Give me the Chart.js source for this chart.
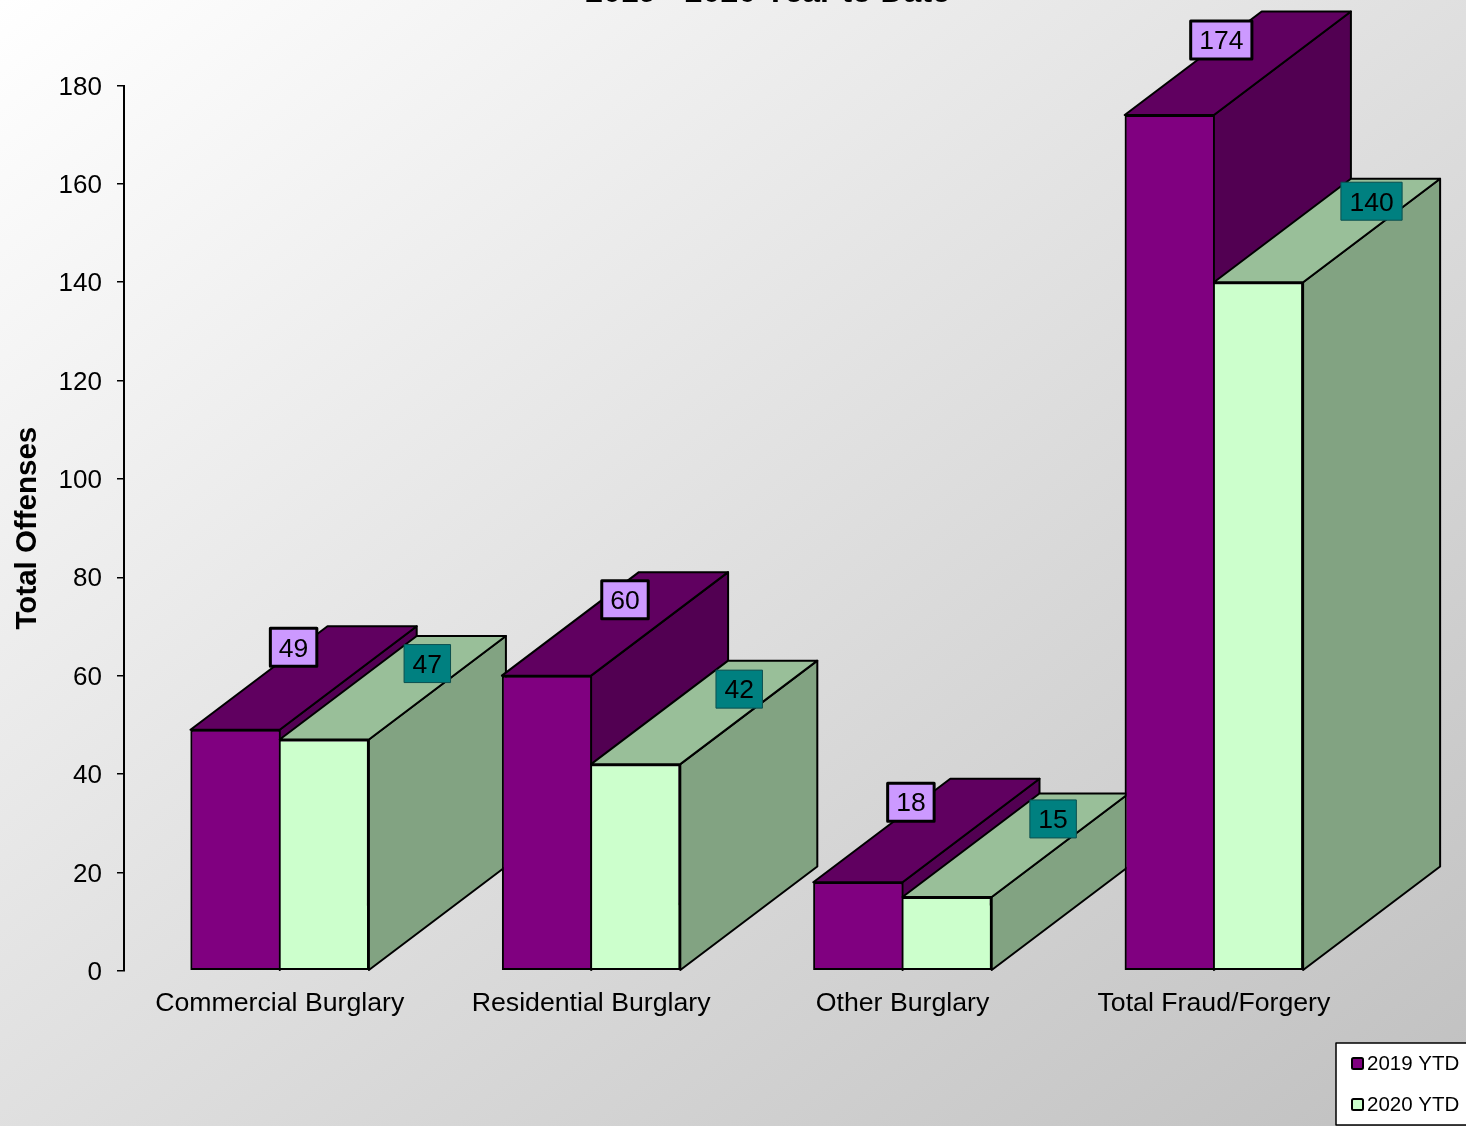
<!DOCTYPE html>
<html lang="en">
<head>
    <meta charset="UTF-8">
    <title>2019 - 2020 Year to Date</title>
    <script src="https://cdn.jsdelivr.net/npm/chart.js"></script>
    <style>
        body {
            margin: 0;
            background: #fff;
        }
        canvas {
            display: block;
            background: linear-gradient(to bottom right, #ffffff 0%, #c0c0c0 100%);
        }
    </style>
</head>
<body>
    <canvas id="chart" width="1466" height="1126"></canvas>
    <script>
        // Values
        const categories = ['Commercial Burglary', 'Residential Burglary', 'Other Burglary', 'Total Fraud/Forgery'];
        const ytd2019 = [49, 60, 18, 174];
        const ytd2020 = [47, 42, 15, 140];
        const yTicks = [0, 20, 40, 60, 80, 100, 120, 140, 160, 180];
        const chartTitle = '2019 - 2020 Year to Date';
        const yTitle = 'Total Offenses';

        const FONT = '"Liberation Sans", Arial, sans-serif';

        // The 3D look: how far the box goes back, and face colours per series
        const depthX = 137;
        const depthY = -103.5;
        const faces = [
            { top: '#600060', side: '#520052', label: '#CC99FF', labelBorder: '#000', labelLine: 3 },
            { top: '#99BF99', side: '#82A382', label: '#008080', labelBorder: '#0b4f4f', labelLine: 1 }
        ];
        // Label boxes were placed by hand in the original: shift from bar top centre
        const labelShift = [
            [[58.5, -82.5], [78.5, -76], [53, -80], [52, -75]],
            [[103, -76], [103.5, -75], [106, -78], [113, -81]]
        ];

        function poly(ctx, pts, fill) {
            ctx.beginPath();
            pts.forEach((p, i) => i ? ctx.lineTo(p[0], p[1]) : ctx.moveTo(p[0], p[1]));
            ctx.closePath();
            ctx.fillStyle = fill;
            ctx.fill();
            ctx.strokeStyle = '#000';
            ctx.lineWidth = 2;
            ctx.lineJoin = 'round';
            ctx.stroke();
        }

        const boxes3d = {
            id: 'boxes3d',
            // painter's order: category by category, so later boxes hide earlier ones
            afterDatasetsDraw(chart) {
                const ctx = chart.ctx;
                categories.forEach((c, i) => {
                    chart.data.datasets.forEach((ds, d) => {
                        const bar = chart.getDatasetMeta(d).data[i];
                        const half = bar.width / 2;
                        const l = bar.x - half, r = bar.x + half, t = bar.y, b = bar.base;
                        poly(ctx, [[r, b], [r + depthX, b + depthY], [r + depthX, t + depthY], [r, t]], faces[d].side);
                        poly(ctx, [[l, t], [l + depthX, t + depthY], [r + depthX, t + depthY], [r, t]], faces[d].top);
                        bar.draw(ctx);
                    });
                });
                // value labels go on top of everything
                ctx.font = '26.5px ' + FONT;
                ctx.textAlign = 'center';
                ctx.textBaseline = 'middle';
                chart.data.datasets.forEach((ds, d) => {
                    chart.getDatasetMeta(d).data.forEach((bar, i) => {
                        const txt = String(ds.data[i]);
                        const cx = bar.x + labelShift[d][i][0];
                        const cy = bar.y + labelShift[d][i][1];
                        const w = ctx.measureText(txt).width + 17;
                        const h = 38;
                        ctx.fillStyle = faces[d].label;
                        ctx.fillRect(cx - w / 2, cy - h / 2, w, h);
                        ctx.strokeStyle = faces[d].labelBorder;
                        ctx.lineWidth = faces[d].labelLine;
                        ctx.strokeRect(cx - w / 2, cy - h / 2, w, h);
                        ctx.fillStyle = '#000';
                        ctx.fillText(txt, cx, cy + 2);
                    });
                });
            },
            afterDraw(chart) {
                const ctx = chart.ctx;
                // title sits partly off the top of the page in the reference
                ctx.font = 'bold 32px ' + FONT;
                ctx.textAlign = 'center';
                ctx.textBaseline = 'alphabetic';
                ctx.fillStyle = '#000';
                ctx.fillText(chartTitle, 767.5, 2);

                // legend box, cut by the right edge
                ctx.fillStyle = '#fff';
                ctx.fillRect(1336, 1043, 140, 82);
                ctx.strokeStyle = '#000';
                ctx.lineWidth = 1.5;
                ctx.strokeRect(1336, 1043, 140, 82);
                ctx.font = '20.5px ' + FONT;
                ctx.textAlign = 'left';
                ctx.textBaseline = 'middle';
                chart.data.datasets.forEach((ds, d) => {
                    const y = 1063 + d * 41;
                    ctx.fillStyle = ds.backgroundColor;
                    ctx.strokeStyle = '#000';
                    ctx.lineWidth = 2;
                    ctx.beginPath();
                    ctx.roundRect(1352, y - 5, 11, 11, 1.5);
                    ctx.fill();
                    ctx.stroke();
                    ctx.fillStyle = '#000';
                    ctx.fillText(ds.label, 1367, y + 1);
                });
            }
        };

        new Chart(document.getElementById('chart'), {
            type: 'bar',
            data: {
                labels: categories,
                datasets: [
                    {
                        label: '2019 YTD', data: ytd2019, backgroundColor: '#800080', borderColor: '#000',
                        borderWidth: { top: 2, left: 2, bottom: 2, right: 1 }, borderSkipped: false
                    },
                    {
                        label: '2020 YTD', data: ytd2020, backgroundColor: '#CCFFCC', borderColor: '#000',
                        borderWidth: { top: 2, left: 1, bottom: 2, right: 2 }, borderSkipped: false
                    }
                ]
            },
            plugins: [boxes3d],
            options: {
                responsive: false,
                animation: false,
                events: [],
                devicePixelRatio: 1,
                categoryPercentage: 0.573,
                barPercentage: 1,
                layout: { padding: { top: 85.5, right: 96.4, left: 0, bottom: 0 } },
                plugins: {
                    legend: { display: false },
                    title: { display: false },
                    tooltip: { enabled: false }
                },
                scales: {
                    x: {
                        grid: { display: false },
                        border: { display: false },
                        ticks: {
                            color: '#000',
                            font: { family: FONT, size: 26.7 },
                            padding: 9,
                            maxRotation: 0,
                            autoSkip: false
                        },
                        afterFit(scale) { scale.height = 155.3; }
                    },
                    y: {
                        min: 0,
                        max: 180,
                        afterBuildTicks(scale) { scale.ticks = yTicks.map(v => ({ value: v })); },
                        grid: { drawOnChartArea: false, drawTicks: true, tickLength: 7, color: '#000', lineWidth: 1.5 },
                        border: { color: '#000', width: 2 },
                        ticks: { color: '#000', font: { family: FONT, size: 26 }, padding: 15, labelOffset: 2 },
                        title: {
                            display: true,
                            text: yTitle,
                            color: '#000',
                            font: { family: FONT, size: 29.5, weight: 'bold' },
                            padding: { top: 10, bottom: 0 }
                        },
                        afterFit(scale) { scale.width = 124; }
                    }
                }
            }
        });
    </script>
</body>
</html>
